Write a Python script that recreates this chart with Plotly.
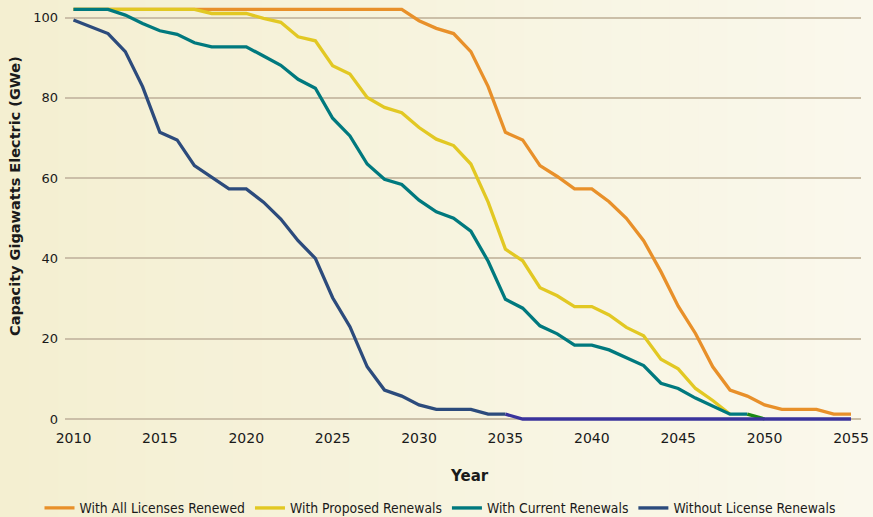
import plotly.graph_objects as go

years = list(range(2010, 2056))

all_renewed = [102]*20 + [99.2, 97.3, 96.0, 91.5, 82.8, 71.4, 69.5, 63.1, 60.4, 57.3,
                          57.3, 54.1, 50.0, 44.4, 36.7, 28.1, 21.3, 13.0, 7.2, 5.7,
                          3.5, 2.4, 2.4, 2.4, 1.2, 1.2]

proposed = [102]*8 + [101.0, 101.0, 101.0, 99.8, 98.8, 95.2, 94.2, 88.0, 85.9, 80.1,
                      77.6, 76.3, 72.6, 69.7, 68.1, 63.5, 54.0, 42.3, 39.4, 32.7,
                      30.7, 28.0, 28.0, 25.9, 22.8, 20.7, 14.9, 12.5, 7.6, 4.6, 1.2]

current = [102, 102, 102, 100.6, 98.5, 96.7, 95.8, 93.7, 92.7, 92.7,
           92.7, 90.4, 88.1, 84.6, 82.4, 74.9, 70.5, 63.5, 59.7, 58.4,
           54.5, 51.6, 50.0, 46.8, 39.3, 29.8, 27.6, 23.2, 21.2, 18.4,
           18.4, 17.2, 15.3, 13.3, 8.9, 7.6, 5.2, 3.1, 1.2, 1.2]

without = [99.4, 97.7, 96.0, 91.5, 82.8, 71.4, 69.5, 63.1, 60.3, 57.3,
           57.3, 54.0, 49.8, 44.4, 40.0, 30.2, 23.0, 13.0, 7.2, 5.7,
           3.5, 2.4, 2.4, 2.4, 1.2, 1.2]

# small overlapping segments visible in the original chart
green_years = [2049, 2050]
green_vals = [1.2, 0]
zero_years = list(range(2035, 2056))
zero_vals = [1.2] + [0]*20

series = [
    ("With All Licenses Renewed", years[:len(all_renewed)], all_renewed, "#E8902A"),
    ("With Proposed Renewals", years[:len(proposed)], proposed, "#E2C823"),
    ("With Current Renewals", years[:len(current)], current, "#00797E"),
    ("Without License Renewals", years[:len(without)], without, "#2C4B7C"),
]

fig = go.Figure()
for name, xs, ys, col in series:
    fig.add_trace(go.Scatter(x=xs, y=ys, mode="lines", name=name,
                             line=dict(color=col, width=3.3)))
fig.add_trace(go.Scatter(x=green_years, y=green_vals, mode="lines", showlegend=False,
                         line=dict(color="#1B8A14", width=3.3)))
fig.add_trace(go.Scatter(x=zero_years, y=zero_vals, mode="lines", showlegend=False,
                         line=dict(color="#3A339C", width=3.3)))

W, H = 873, 517
L, R, T, B = 65, 12, 2, 94
pw = W - L - R
ph = H - T - B

# background gradient
c0 = (0xF4, 0xEF, 0xD1)
c1 = (0xFA, 0xF8, 0xEC)
n = 30
shapes = []
for i in range(n):
    f = i / (n - 1)
    c = tuple(int(round(c0[k] + (c1[k] - c0[k]) * f)) for k in range(3))
    x0 = (i * W / n - L) / pw
    x1 = ((i + 1) * W / n + 1 - L) / pw
    shapes.append(dict(type="rect", xref="paper", yref="paper", x0=x0, x1=x1,
                       y0=-1, y1=2, fillcolor="rgb(%d,%d,%d)" % c, line=dict(width=0),
                       layer="below"))

grid = "#CBBFA8"
fig.update_layout(
    width=W, height=H,
    margin=dict(l=L, r=R, t=T, b=B, autoexpand=False),
    paper_bgcolor="#F7F3DE",
    plot_bgcolor="rgba(0,0,0,0)",
    shapes=shapes,
    font=dict(family="DejaVu Sans", color="#1a1a1a"),
    xaxis=dict(range=[2009.51, 2055.58], tickvals=list(range(2010, 2056, 5)),
               showgrid=False, zeroline=False, showline=False, ticks="",
               tickfont=dict(size=14, family="DejaVu Sans"),
               ticklabelstandoff=5, automargin=False),
    yaxis=dict(range=[-1.0, 103.86], tickvals=[0, 20, 40, 60, 80, 100],
               showgrid=True, gridcolor=grid, gridwidth=1.6, zeroline=False,
               showline=False, ticks="", ticklabelstandoff=6, automargin=False,
               tickfont=dict(size=13, family="DejaVu Sans")),
    showlegend=True,
    legend=dict(orientation="h", x=(440 - L) / pw, xanchor="center",
                y=(H - B - 508) / ph, yanchor="middle",
                bgcolor="rgba(0,0,0,0)", itemwidth=30,
                font=dict(size=13.8, family="DejaVu Sans Condensed, DejaVu Sans")),
    annotations=[
        dict(text="<b>Year</b>", xref="paper", yref="paper",
             x=(470 - L) / pw, y=(H - B - 476) / ph, showarrow=False,
             xanchor="center", yanchor="middle", font=dict(size=15)),
        dict(text="<b>Capacity Gigawatts Electric (GWe)</b>", xref="paper", yref="paper",
             x=(15 - L) / pw, y=(H - B - 196) / ph, showarrow=False, textangle=-90,
             xanchor="center", yanchor="middle", font=dict(size=14.5)),
    ],
)

fig.write_html("out.html", config={"displayModeBar": False},
               post_script="document.body.style.margin='0';document.body.style.overflow='hidden';")
